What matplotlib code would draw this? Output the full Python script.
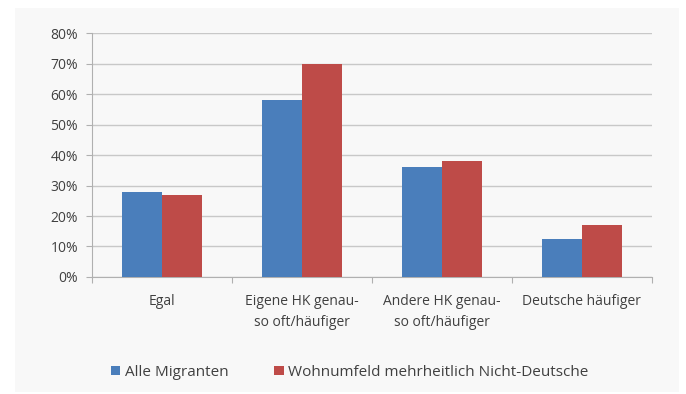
import matplotlib.pyplot as plt
from matplotlib.patches import Rectangle
import numpy as np

# Antworten nach Gruppe (Anteile in %)
categories = ['Egal', 'Eigene HK genau-\nso oft/häufiger', 'Andere HK genau-\nso oft/häufiger', 'Deutsche häufiger']
alle_migranten = [28, 58, 36, 12.5]
wohnumfeld_nicht_deutsche = [27, 70, 38, 17]
series_names = ['Alle Migranten', 'Wohnumfeld mehrheitlich Nicht-Deutsche']

plt.rcParams['font.family'] = ['Open Sans', 'DejaVu Sans']
txt = '#404040'

fig = plt.figure(figsize=(6.86, 3.94), dpi=100, facecolor='white')
# hellgrauer Diagrammbereich
fig.patches.append(Rectangle((15/686, 2/394), 664/686, 384/394, transform=fig.transFigure,
                             facecolor='#f8f8f8', edgecolor='none', zorder=-10))

ax = fig.add_axes([0.134, 0.297, 0.816, 0.619])
ax.set_facecolor('#f8f8f8')

x = np.arange(len(categories))
w = 0.285
ax.bar(x - w/2, alle_migranten, w, color='#4a7ebb', label=series_names[0], zorder=3)
ax.bar(x + w/2, wohnumfeld_nicht_deutsche, w, color='#be4b48', label=series_names[1], zorder=3)

ax.set_xlim(-0.5, 3.5)
ax.set_ylim(0, 80)
ax.set_yticks(range(0, 81, 10))
ax.set_yticklabels([f'{v}%' for v in range(0, 81, 10)])
ax.yaxis.grid(True, color='#c8c8c8', linewidth=1, zorder=0)

# Kategorien als Textzeilen, Striche an den Grenzen
ax.set_xticks(np.arange(-0.5, 4, 1))
ax.set_xticklabels([])
ax.set_xticks(x, minor=True)
ax.set_xticklabels(categories, minor=True, fontsize=10, color=txt, linespacing=1.6)
ax.tick_params(axis='x', which='minor', length=0, pad=12)
ax.tick_params(axis='x', which='major', length=4, color='#b0b0b0')
ax.tick_params(axis='y', length=4, color='#b0b0b0', labelsize=10, labelcolor=txt, pad=6)

for s in ['top', 'right']:
    ax.spines[s].set_visible(False)
ax.spines['left'].set_color('#b0b0b0')
ax.spines['bottom'].set_color('#b0b0b0')

fig.legend(loc='lower left', bbox_to_anchor=(0.142, 0.0), ncol=2, frameon=False,
           fontsize=11, handlelength=0.6, handleheight=0.5, handletextpad=0.3,
           columnspacing=3.0, labelcolor=txt)

plt.savefig('out.png', dpi=100, facecolor=fig.get_facecolor())
